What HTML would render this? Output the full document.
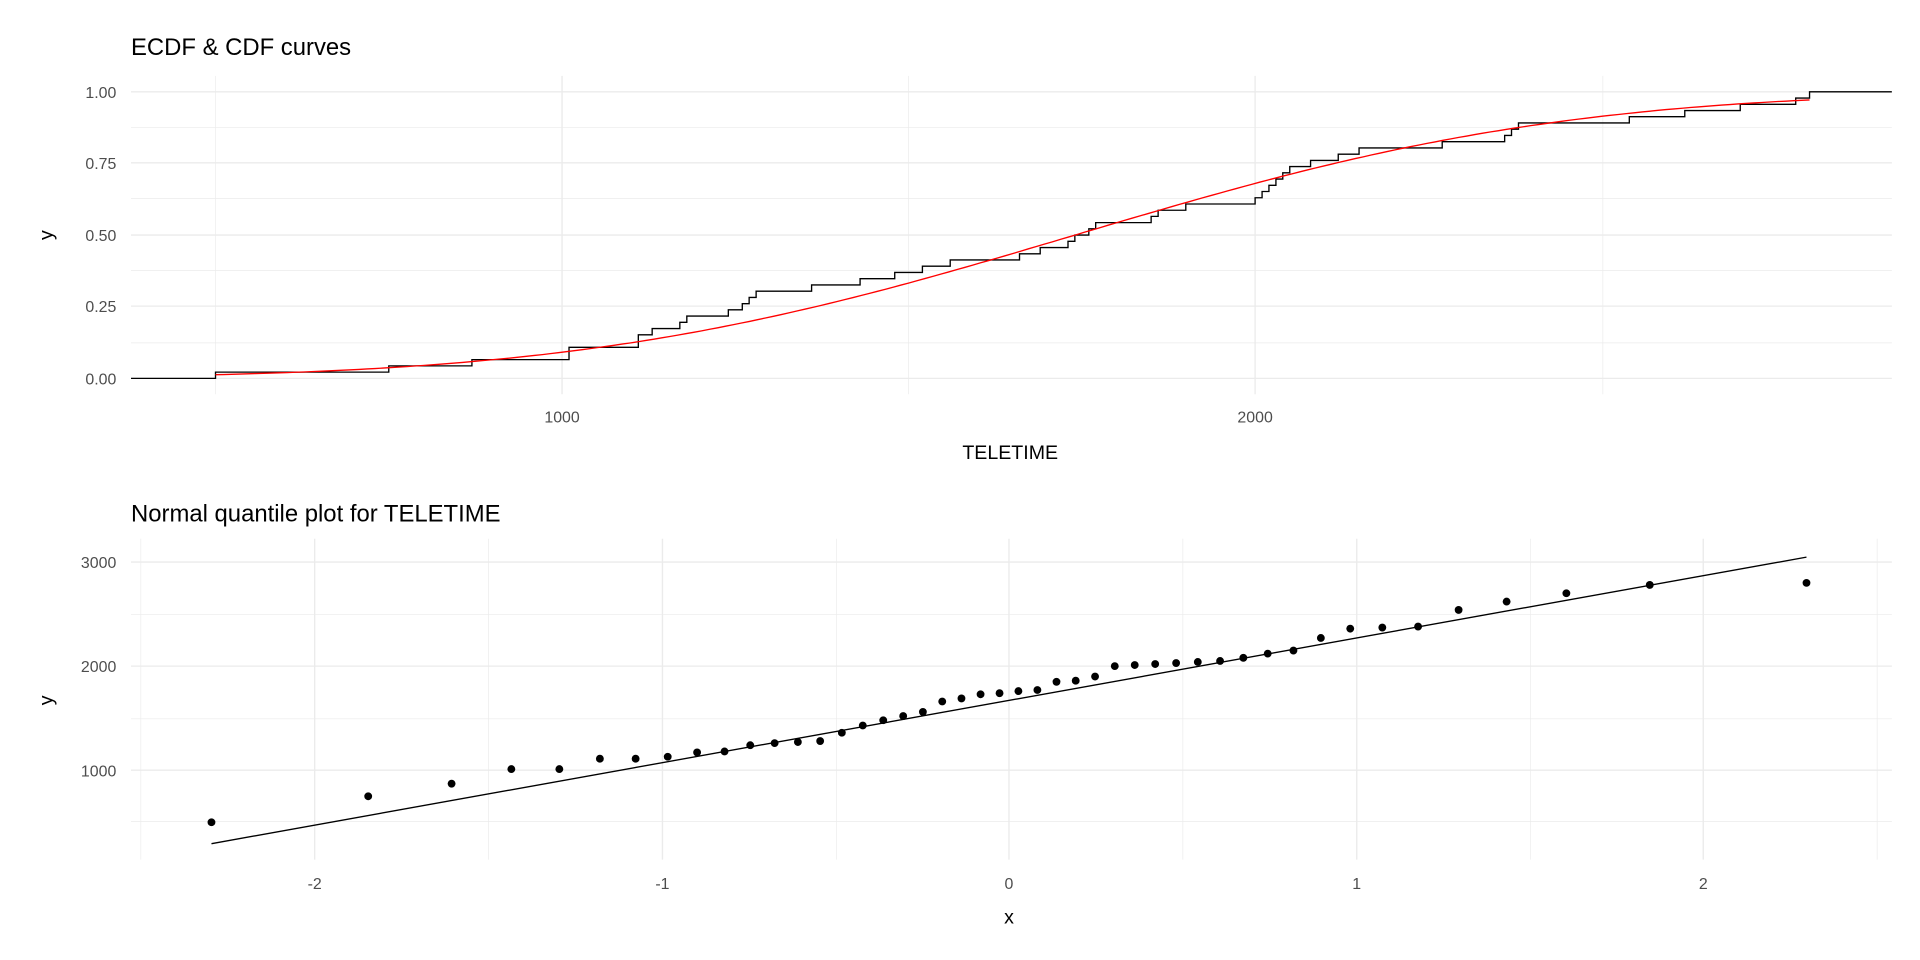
<!DOCTYPE html>
<html><head><meta charset="utf-8"><style>
html,body{margin:0;padding:0;background:#fff}
svg{display:block}
text{font-family:"Liberation Sans",Arial,sans-serif}
</style></head><body>
<svg id="s" width="1920" height="960" viewBox="0 0 1568 784" xmlns="http://www.w3.org/2000/svg">
<rect width="1568" height="784" fill="#fff"/>
<g id="g"></g>
<text x="107" y="45" font-size="19.5" fill="#000">ECDF &amp; CDF curves</text>
<text x="107" y="426" font-size="19.5" fill="#000">Normal quantile plot for TELETIME</text>
<g font-size="13" fill="#4d4d4d" text-anchor="end">
<text x="95" y="80">1.00</text><text x="95" y="138">0.75</text><text x="95" y="197">0.50</text><text x="95" y="255">0.25</text><text x="95" y="314">0.00</text>
<text x="95" y="464">3000</text><text x="95" y="549">2000</text><text x="95" y="634">1000</text>
</g>
<g font-size="13" fill="#4d4d4d" text-anchor="middle">
<text x="459" y="345">1000</text><text x="1025" y="345">2000</text>
<text x="257" y="726">-2</text><text x="541" y="726">-1</text><text x="824" y="726">0</text><text x="1108" y="726">1</text><text x="1391" y="726">2</text>
</g>
<g font-size="16" fill="#000" text-anchor="middle">
<text x="825" y="375">TELETIME</text>
<text x="824" y="754">x</text>
<text transform="translate(43,192) rotate(-90)">y</text>
<text transform="translate(43,572) rotate(-90)">y</text>
</g>
</svg>
<script>
var NS="http://www.w3.org/2000/svg",g=document.getElementById('g');
function el(t,a){var e=document.createElementNS(NS,t);for(var k in a)e.setAttribute(k,a[k]);g.appendChild(e);return e;}
function line(x1,y1,x2,y2,c,w){el('line',{x1:x1,y1:y1,x2:x2,y2:y2,stroke:c,'stroke-width':w});}
var L=107,R=1545;
[104,162,221,280].forEach(function(y){line(L,y,R,y,'#ebebeb',0.55);});
[75,133,192,250,309].forEach(function(y){line(L,y,R,y,'#ebebeb',1.1);});
[176,742,1309].forEach(function(x){line(x,62,x,322,'#ebebeb',0.55);});
[459,1025].forEach(function(x){line(x,62,x,322,'#ebebeb',1.1);});
[502,587,671].forEach(function(y){line(L,y,R,y,'#ebebeb',0.55);});
[459,544,629].forEach(function(y){line(L,y,R,y,'#ebebeb',1.1);});
[115,399,683,966,1250,1533].forEach(function(x){line(x,440,x,702,'#ebebeb',0.55);});
[257,541,824,1108,1391].forEach(function(x){line(x,440,x,702,'#ebebeb',1.1);});
var v=[500,750,870,1010,1010,1110,1110,1130,1170,1180,1240,1260,1270,1280,1360,1430,1480,1520,1560,1660,1690,1730,1740,1760,1770,1850,1860,1900,2000,2010,2020,2030,2040,2050,2080,2120,2150,2270,2360,2370,2380,2540,2620,2700,2780,2800];
var n=v.length;
function px(val){return 459+(val-1000)*0.566;}
function py(p){return 309-p*234;}
var d='M'+L+' '+py(0);
for(var i=0;i<n;i++){var x=px(v[i]);d+=' H'+x.toFixed(1)+' V'+py((i+1)/n).toFixed(1);}
d+=' H'+R;
el('path',{d:d,fill:'none',stroke:'#000','stroke-width':1.1});
function erf(x){var s=x<0?-1:1;x=Math.abs(x);var t=1/(1+0.3275911*x);var y=1-(((((1.061405429*t-1.453152027)*t)+1.421413741)*t-0.284496736)*t+0.254829592)*t*Math.exp(-x*x);return s*y;}
var mu=1740,sd=555,c='';
for(var k=0;k<=200;k++){var val=v[0]+(v[n-1]-v[0])*k/200;var p=0.5*(1+erf((val-mu)/(sd*Math.SQRT2)));c+=(k?' L':'M')+px(val).toFixed(1)+' '+py(p).toFixed(1);}
el('path',{d:c,fill:'none',stroke:'#ff0000','stroke-width':1.1});
function qnorm(p){var a=[-39.69683028665376,220.9460984245205,-275.9285104469687,138.3577518672690,-30.66479806614716,2.506628277459239],b=[-54.47609879822406,161.5858368580409,-155.6989798598866,66.80131188771972,-13.28068155288572],cc=[-0.007784894002430293,-0.3223964580411365,-2.400758277161838,-2.549732539343734,4.374664141464968,2.938163982698783],dd=[0.007784695709041462,0.3224671290700398,2.445134137142996,3.754408661907416];var q,r;
if(p<0.02425){q=Math.sqrt(-2*Math.log(p));return (((((cc[0]*q+cc[1])*q+cc[2])*q+cc[3])*q+cc[4])*q+cc[5])/((((dd[0]*q+dd[1])*q+dd[2])*q+dd[3])*q+1);}
if(p>1-0.02425){q=Math.sqrt(-2*Math.log(1-p));return -(((((cc[0]*q+cc[1])*q+cc[2])*q+cc[3])*q+cc[4])*q+cc[5])/((((dd[0]*q+dd[1])*q+dd[2])*q+dd[3])*q+1);}
q=p-0.5;r=q*q;return (((((a[0]*r+a[1])*r+a[2])*r+a[3])*r+a[4])*r+a[5])*q/(((((b[0]*r+b[1])*r+b[2])*r+b[3])*r+b[4])*r+1);}
function qx(q){return 824+q*283.8;}
function qy(val){return 629-(val-1000)*0.085;}
line(qx(qnorm(0.5/n)),689,qx(qnorm(1-0.5/n)),455,'#000',1.1);
for(var i=0;i<n;i++){el('circle',{cx:qx(qnorm((i+0.5)/n)).toFixed(1),cy:qy(v[i]).toFixed(1),r:3.2,fill:'#000'});}
</script>
</body></html>
